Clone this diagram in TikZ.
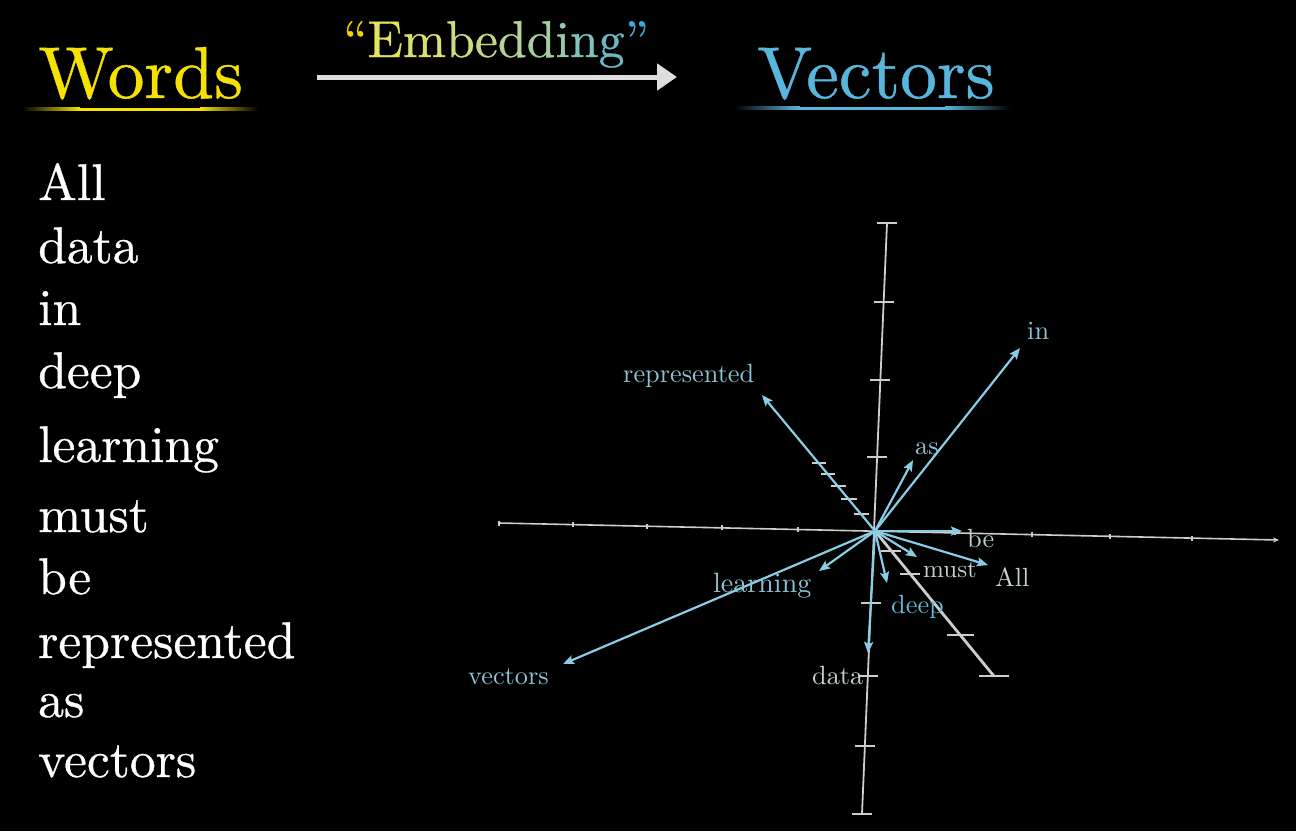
\documentclass[tikz,border=0pt]{standalone}
\usepackage{fontspec}
\setmainfont{lmroman10-regular.otf}[Ligatures=TeX]
\newfontfamily\heavyfont{lmroman10-regular.otf}[Ligatures=TeX,FakeBold=0.6]
\usetikzlibrary{arrows.meta}
\definecolor{wyellow}{RGB}{245,226,0}
\definecolor{vblue}{RGB}{88,182,220}
\definecolor{arrowgrey}{RGB}{222,222,222}
\definecolor{axisgrey}{RGB}{205,205,205}
\definecolor{vecblue}{RGB}{138,204,230}
\definecolor{labblue}{RGB}{140,196,214}
\definecolor{labgrey}{RGB}{195,210,210}
\definecolor{labdeep}{RGB}{100,184,218}
\definecolor{qa}{RGB}{240,212,0}
\definecolor{ca}{RGB}{228,228,95}
\definecolor{cb}{RGB}{216,225,110}
\definecolor{cc}{RGB}{205,220,125}
\definecolor{cd}{RGB}{195,215,140}
\definecolor{ce}{RGB}{182,210,150}
\definecolor{cf}{RGB}{166,205,160}
\definecolor{cg}{RGB}{150,200,172}
\definecolor{ch}{RGB}{130,194,186}
\definecolor{ci}{RGB}{108,184,198}
\definecolor{qb}{RGB}{60,170,215}
\begin{document}
\begin{tikzpicture}[x=1pt,y=-1pt,
  vec/.style={draw=vecblue, line width=2.2pt, -{Stealth[length=11pt,width=9pt,inset=2pt]}},
  axisline/.style={draw=axisgrey, line width=1.8pt},
  tickbar/.style={draw=axisgrey, line width=1.8pt},
  lab/.style={anchor=base west, inner sep=0pt, text=labblue, font=\fontsize{26.3}{30}\selectfont},
  listword/.style={anchor=base west, inner sep=0pt, text=white, font=\heavyfont\fontsize{51.6}{60}\selectfont},
  title/.style={anchor=base west, inner sep=0pt}]
\fill[black] (0,0) rectangle (1296,831);
\useasboundingbox (0,0) rectangle (1296,831);

% ---------- header ----------
\node[title, text=wyellow, font=\heavyfont\fontsize{73.5}{80}\selectfont] (words) at (38,98) {Words};
\shade[left color=black, right color=wyellow] (22,107.5) rectangle (80,110.5);
\fill[wyellow] (80,107.5) rectangle (200,110.5);
\shade[left color=wyellow, right color=black] (200,107.5) rectangle (258,110.5);

\node[title, font=\heavyfont\fontsize{51.8}{60}\selectfont] (emb) at (343,57)
  {\textcolor{qa}{``}\textcolor{ca}{E}\textcolor{cb}{m}\textcolor{cc}{b}\textcolor{cd}{e}\textcolor{ce}{d}\textcolor{cf}{d}\textcolor{cg}{i}\textcolor{ch}{n}\textcolor{ci}{g}\textcolor{qb}{''}};
\coordinate (ea) at (317,77);
\coordinate (eb) at (677,77);
\draw[draw=arrowgrey, line width=5pt, -{Triangle[length=20pt,width=26pt]}] (ea) -- (eb);

\node[title, text=vblue, font=\heavyfont\fontsize{73.5}{80}\selectfont] (vectors) at (757,98) {Vectors};
\shade[left color=black, right color=vblue] (735,106.5) rectangle (800,109.5);
\fill[vblue] (800,106.5) rectangle (945,109.5);
\shade[left color=vblue, right color=black] (945,106.5) rectangle (1010,109.5);

% ---------- word list ----------
\node[listword] (l1) at (38,200) {All};
\node[listword] (l2) at (38,263) {data};
\node[listword] (l3) at (38,325) {in};
\node[listword] (l4) at (38,388) {deep};
\node[listword] (l5) at (38,462) {learning};
\node[listword] (l6) at (38,532) {must};
\node[listword] (l7) at (38,594) {be};
\node[listword] (l8) at (38,658) {represented};
\node[listword] (l9) at (38,717) {as};
\node[listword] (l10) at (38,777) {vectors};

% ---------- axes ----------
\coordinate (O) at (875,531);
\coordinate (xl) at (499,523);
\coordinate (xr) at (1279,540);
\draw[axisline, line width=1.6pt, -{Stealth[length=6pt,width=5pt]}] (xl) -- (xr);
\foreach \x in {499,573,647,722,798,955,1032,1110,1192} {
  \pgfmathsetmacro\yy{523+(\x-499)*17/780}
  \draw[tickbar, line width=1.5pt] (\x,\yy-2.5) -- (\x,\yy+2.5);
}
\coordinate (zt) at (887,223);
\coordinate (zb) at (862,814);
\draw[axisline] (zt) -- (zb);
\foreach \y in {223,302,380,457,603,676,746,814} {
  \pgfmathsetmacro\xx{887-25*(\y-223)/591}
  \draw[tickbar] (\xx-10,\y) -- (\xx+10,\y);
}
\coordinate (de) at (993.8,676);
\draw[axisline, line width=2.8pt] (O) -- (de);
\foreach \y/\h in {463/7,474/7,486/7.5,499/8,514/7.5} {
  \pgfmathsetmacro\xx{875+(\y-531)*0.819}
  \draw[tickbar, line width=1.6pt] (\xx-\h,\y) -- (\xx+\h,\y);
}
\foreach \y/\h in {551/10,574/10,635/13.5,676/15} {
  \pgfmathsetmacro\xx{875+(\y-531)*0.819}
  \draw[tickbar, line width=2.6pt] (\xx-\h,\y) -- (\xx+\h,\y);
}

% ---------- vectors ----------
\coordinate (tRep) at (762,395);
\coordinate (tIn) at (1020,348);
\coordinate (tAs) at (913,460);
\coordinate (tBe) at (962,531);
\coordinate (tMust) at (917,557);
\coordinate (tAll) at (988,565);
\coordinate (tDeep) at (887,583);
\coordinate (tData) at (868,653);
\coordinate (tLearn) at (819,571);
\coordinate (tVec) at (563,664);
\draw[vec] (O) -- (tRep);
\draw[vec] (O) -- (tIn);
\draw[vec] (O) -- (tAs);
\draw[vec] (O) -- (tBe);
\draw[vec] (O) -- (tMust);
\draw[vec] (O) -- (tAll);
\draw[vec] (O) -- (tDeep);
\draw[vec] (O) -- (tData);
\draw[vec] (O) -- (tLearn);
\draw[vec] (O) -- (tVec);

% ---------- labels ----------
\node[lab] (nRep) at (623,382) {represented};
\node[lab] (nIn) at (1027,339) {in};
\node[lab] (nAs) at (915,454) {as};
\node[lab, text=labgrey] (nBe) at (967,547) {be};
\node[lab, text=labgrey, font=\fontsize{25}{28}\selectfont] (nMust) at (923,577) {must};
\node[lab, text=labgrey] (nAll) at (995,586) {All};
\node[lab, text=labdeep] (nDeep) at (891,613) {deep};
\node[lab, text=labgrey] (nData) at (812,684) {data};
\node[lab, font=\fontsize{28}{30}\selectfont] (nLearn) at (713,592) {learning};
\node[lab] (nVec) at (468,684) {vectors};
\end{tikzpicture}
\end{document}
